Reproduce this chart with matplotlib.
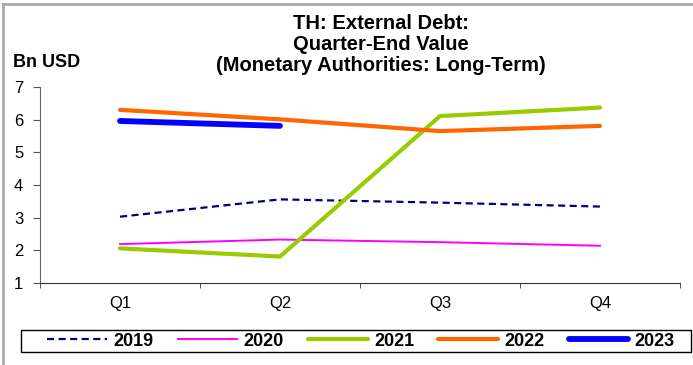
import matplotlib
matplotlib.use("Agg")
import matplotlib.pyplot as plt
from matplotlib.patches import Rectangle
from matplotlib.lines import Line2D

categories = ["Q1", "Q2", "Q3", "Q4"]
y2019 = [3.03, 3.56, 3.46, 3.34]
y2020 = [2.19, 2.33, 2.25, 2.14]
y2021 = [2.06, 1.81, 6.11, 6.37]
y2022 = [6.30, 6.01, 5.65, 5.81]
y2023 = [5.96, 5.81]
yticks = [1, 2, 3, 4, 5, 6, 7]
title_lines = ["TH: External Debt:", "Quarter-End Value", "(Monetary Authorities: Long-Term)"]

plt.rcParams['font.family'] = ['Liberation Sans', 'DejaVu Sans']

W, H = 693, 365
fig = plt.figure(figsize=(W/100, H/100), dpi=100)
ax = fig.add_axes([40/W, (H-283)/H, 640/W, 196/H])

x = list(range(len(categories)))
ax.plot(x, y2019, color="#000080", lw=1.6, ls=(0, (3.2, 2.0)), label="2019")
ax.plot(x, y2020, color="#FF00FF", lw=1.4, label="2020")
ax.plot(x, y2021, color="#99CC00", lw=3, solid_capstyle="round", label="2021")
ax.plot(x, y2022, color="#FF6600", lw=3, solid_capstyle="round", label="2022")
ax.plot(x[:len(y2023)], y2023, color="#0000FF", lw=4.2, solid_capstyle="round", label="2023")

ax.set_xlim(-0.5, 3.5)
ax.set_ylim(1, 7)
ax.set_yticks(yticks)
ax.set_yticklabels([str(v) for v in yticks], fontsize=12)
ax.set_xticks(x)
ax.set_xticklabels(categories, fontsize=12)
ax.set_xticks([-0.5, 0.5, 1.5, 2.5, 3.5], minor=True)
ax.tick_params(axis="x", which="major", length=0, pad=9.5)
ax.tick_params(axis="x", which="minor", length=3.5, direction="out", color="#333333")
ax.tick_params(axis="y", length=5, direction="out", color="#555555", pad=7)
for s in ["top", "right"]:
    ax.spines[s].set_visible(False)
ax.spines["left"].set_color("#666666")
ax.spines["bottom"].set_color("#333333")

for i, (t, yb) in enumerate(zip(title_lines, [29, 50, 71])):
    fig.text(381/W, 1-yb/H, t, ha="center", va="baseline", fontsize=14.5, fontweight="bold")
fig.text(13/W, 1-67/H, "Bn USD", ha="left", va="baseline", fontsize=13, fontweight="bold")

leg = fig.legend(loc="center", bbox_to_anchor=(361/W, 1-341/H), ncol=5, frameon=False,
                 prop={"weight": "bold", "size": 13},
                 handlelength=3.3, columnspacing=1.35, handletextpad=0.35, borderpad=0.2)

fig.patches.append(Rectangle((21/W, 1-352/H), 670/W, 22/H, transform=fig.transFigure,
                             fill=False, edgecolor="black", lw=1.0))
fig.lines.append(Line2D([3/W, 3/W], [0, 1-4/H], transform=fig.transFigure, color="#aaaaaa", lw=2))
fig.lines.append(Line2D([3/W, 1], [1-4/H, 1-4/H], transform=fig.transFigure, color="#aaaaaa", lw=2))

fig.savefig("out.png", dpi=100)
